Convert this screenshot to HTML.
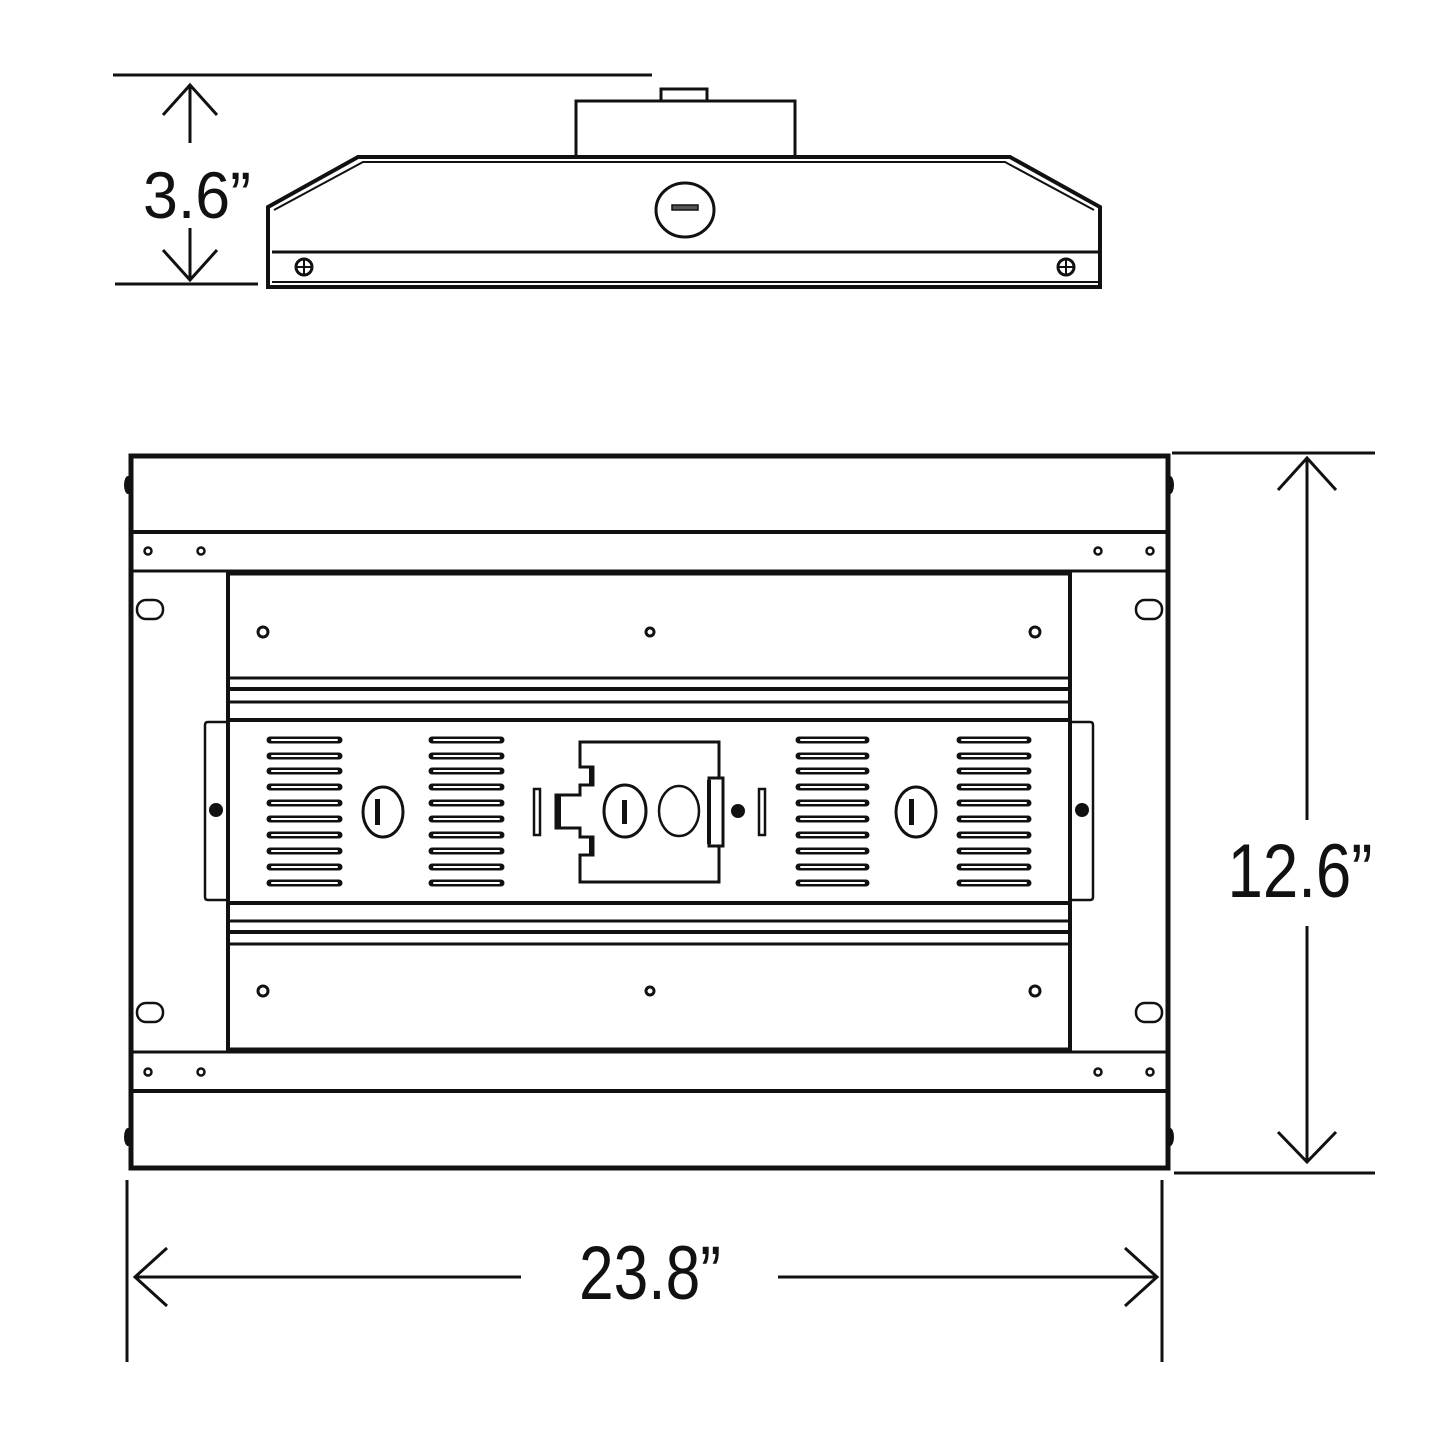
<!DOCTYPE html>
<html><head><style>html,body{margin:0;padding:0;background:#fff}</style></head><body>
<svg width="1445" height="1445" viewBox="0 0 1445 1445" xmlns="http://www.w3.org/2000/svg" fill="none" stroke="#111" stroke-width="3">
<!-- top view dimension -->
<line x1="113" y1="75" x2="652" y2="75"/>
<line x1="115" y1="284" x2="258" y2="284"/>
<line x1="190" y1="85" x2="190" y2="143"/>
<polyline points="163,115 190,85 217,115"/>
<line x1="190" y1="228" x2="190" y2="280"/>
<polyline points="163,250 190,280 217,250"/>
<text x="197" y="218" font-family="Liberation Sans, sans-serif" font-size="66" fill="#111" stroke="none" text-anchor="middle" textLength="108" lengthAdjust="spacingAndGlyphs">3.6”</text>
<!-- top view body -->
<rect x="576" y="101" width="219" height="56" stroke-width="3"/>
<rect x="661" y="89" width="46" height="12" stroke-width="3"/>
<polygon points="268,207 358,157 1010,157 1100,207 1100,287 268,287" stroke-width="4"/>
<polyline points="274,210 363,162 1005,162 1094,210" stroke-width="2"/>
<line x1="272" y1="252" x2="1098" y2="252"/>
<line x1="272" y1="282" x2="1098" y2="282" stroke-width="2"/>
<circle cx="304" cy="267" r="8"/><line x1="296" y1="267" x2="312" y2="267" stroke-width="2"/><line x1="304" y1="259" x2="304" y2="275" stroke-width="2"/>
<circle cx="1066" cy="267" r="8"/><line x1="1058" y1="267" x2="1074" y2="267" stroke-width="2"/><line x1="1066" y1="259" x2="1066" y2="275" stroke-width="2"/>
<ellipse cx="685" cy="210" rx="29" ry="27"/>
<rect x="672" y="205" width="26" height="5" fill="#555" stroke-width="1.5"/>
<!-- bottom view outer -->
<rect x="131" y="456" width="1037" height="712" stroke-width="5"/>
<line x1="131" y1="532" x2="1168" y2="532" stroke-width="4"/>
<line x1="131" y1="571" x2="1168" y2="571" stroke-width="3"/>
<line x1="131" y1="1052" x2="1168" y2="1052" stroke-width="3"/>
<line x1="131" y1="1091" x2="1168" y2="1091" stroke-width="4"/>
<g stroke-width="2.5">
<circle cx="148" cy="551" r="3.5"/><circle cx="201" cy="551" r="3.5"/><circle cx="1098" cy="551" r="3.5"/><circle cx="1150" cy="551" r="3.5"/>
<circle cx="148" cy="1072" r="3.5"/><circle cx="201" cy="1072" r="3.5"/><circle cx="1098" cy="1072" r="3.5"/><circle cx="1150" cy="1072" r="3.5"/>
<rect x="137" y="600" width="26" height="19" rx="9"/><rect x="1136" y="600" width="26" height="19" rx="9"/>
<rect x="137" y="1003" width="26" height="19" rx="9"/><rect x="1136" y="1003" width="26" height="19" rx="9"/>
</g>
<g fill="#111" stroke="none">
<ellipse cx="128" cy="485" rx="4" ry="9"/><ellipse cx="1170" cy="485" rx="4" ry="9"/>
<ellipse cx="128" cy="1137" rx="4" ry="9"/><ellipse cx="1170" cy="1137" rx="4" ry="9"/>
</g>
<!-- inner panel -->
<line x1="228" y1="571" x2="228" y2="1052" stroke-width="4"/>
<line x1="1070" y1="571" x2="1070" y2="1052" stroke-width="4"/>
<line x1="230" y1="574" x2="1068" y2="574" stroke-width="3"/>
<line x1="230" y1="1049" x2="1068" y2="1049" stroke-width="3"/>
<line x1="228" y1="678" x2="1070" y2="678" stroke-width="3"/>
<line x1="228" y1="689" x2="1070" y2="689" stroke-width="4"/>
<line x1="228" y1="702" x2="1070" y2="702" stroke-width="3"/>
<line x1="228" y1="720" x2="1070" y2="720" stroke-width="4"/>
<line x1="228" y1="903" x2="1070" y2="903" stroke-width="4"/>
<line x1="228" y1="921" x2="1070" y2="921" stroke-width="3"/>
<line x1="228" y1="932" x2="1070" y2="932" stroke-width="4"/>
<line x1="228" y1="944" x2="1070" y2="944" stroke-width="3"/>
<g stroke-width="3">
<circle cx="263" cy="632" r="5"/><circle cx="650" cy="632" r="4"/><circle cx="1035" cy="632" r="5"/>
<circle cx="263" cy="991" r="5"/><circle cx="650" cy="991" r="4"/><circle cx="1035" cy="991" r="5"/>
</g>
<!-- brackets -->
<path d="M228,722 H208 Q205,722 205,725 V897 Q205,900 208,900 H228" stroke-width="2.5"/>
<path d="M1070,722 H1090 Q1093,722 1093,725 V897 Q1093,900 1090,900 H1070" stroke-width="2.5"/>
<circle cx="216" cy="810" r="7" fill="#111" stroke="none"/>
<circle cx="1082" cy="810" r="7" fill="#111" stroke="none"/>
<!-- louvers -->
<g stroke-width="7" stroke-linecap="round" stroke="#111">
<path d="M270,740H339M270,756H339M270,771H339M270,787H339M270,803H339M270,819H339M270,835H339M270,851H339M270,867H339M270,883H339"/>
<path d="M432,740H501M432,756H501M432,771H501M432,787H501M432,803H501M432,819H501M432,835H501M432,851H501M432,867H501M432,883H501"/>
<path d="M799,740H866M799,756H866M799,771H866M799,787H866M799,803H866M799,819H866M799,835H866M799,851H866M799,867H866M799,883H866"/>
<path d="M960,740H1028M960,756H1028M960,771H1028M960,787H1028M960,803H1028M960,819H1028M960,835H1028M960,851H1028M960,867H1028M960,883H1028"/>
</g>
<g stroke="#fff" stroke-width="2" stroke-linecap="round">
<path d="M272,740H337M272,756H337M272,771H337M272,787H337M272,803H337M272,819H337M272,835H337M272,851H337M272,867H337M272,883H337"/>
<path d="M434,740H499M434,756H499M434,771H499M434,787H499M434,803H499M434,819H499M434,835H499M434,851H499M434,867H499M434,883H499"/>
<path d="M801,740H864M801,756H864M801,771H864M801,787H864M801,803H864M801,819H864M801,835H864M801,851H864M801,867H864M801,883H864"/>
<path d="M962,740H1026M962,756H1026M962,771H1026M962,787H1026M962,803H1026M962,819H1026M962,835H1026M962,851H1026M962,867H1026M962,883H1026"/>
</g>
<ellipse cx="383" cy="812" rx="20" ry="25"/>
<rect x="375" y="799" width="5" height="26" fill="#111" stroke="none"/>
<ellipse cx="916" cy="812" rx="20" ry="25"/>
<rect x="909" y="799" width="5" height="26" fill="#111" stroke="none"/>
<!-- center module -->
<path d="M719,778 V742 H580 V767 H593 V785 H580 V795 H556 V828 H580 V837 H593 V855 H580 V882 H719 V846" stroke-width="3"/>
<rect x="709" y="778" width="14" height="68" stroke-width="3"/>
<rect x="707" y="780" width="4" height="64" fill="#111" stroke="none"/>
<rect x="556" y="795" width="5" height="33" fill="#111" stroke="none"/>
<rect x="589" y="767" width="4" height="18" fill="#111" stroke="none"/>
<rect x="589" y="837" width="4" height="18" fill="#111" stroke="none"/>
<rect x="534" y="789" width="6" height="46" stroke-width="2.5"/>
<rect x="759" y="789" width="6" height="46" stroke-width="2.5"/>
<ellipse cx="625" cy="811" rx="21" ry="26"/>
<rect x="622" y="800" width="5" height="24" fill="#111" stroke="none"/>
<ellipse cx="679" cy="811" rx="20" ry="25" stroke-width="2.5"/>
<circle cx="738" cy="811" r="7" fill="#111" stroke="none"/>
<!-- right dimension -->
<line x1="1172" y1="453" x2="1375" y2="453"/>
<line x1="1174" y1="1173" x2="1375" y2="1173"/>
<line x1="1307" y1="458" x2="1307" y2="820"/>
<polyline points="1278,490 1307,458 1336,490"/>
<line x1="1307" y1="926" x2="1307" y2="1162"/>
<polyline points="1278,1132 1307,1162 1336,1132"/>
<text x="1300" y="897" font-family="Liberation Sans, sans-serif" font-size="76" fill="#111" stroke="none" text-anchor="middle" textLength="145" lengthAdjust="spacingAndGlyphs">12.6”</text>
<!-- bottom dimension -->
<line x1="127" y1="1180" x2="127" y2="1362"/>
<line x1="1162" y1="1180" x2="1162" y2="1362"/>
<line x1="135" y1="1277" x2="521" y2="1277"/>
<polyline points="167,1248 135,1277 167,1306"/>
<line x1="778" y1="1277" x2="1157" y2="1277"/>
<polyline points="1125,1248 1157,1277 1125,1306"/>
<text x="650" y="1299" font-family="Liberation Sans, sans-serif" font-size="76" fill="#111" stroke="none" text-anchor="middle" textLength="142" lengthAdjust="spacingAndGlyphs">23.8”</text>
</svg>
</body></html>
